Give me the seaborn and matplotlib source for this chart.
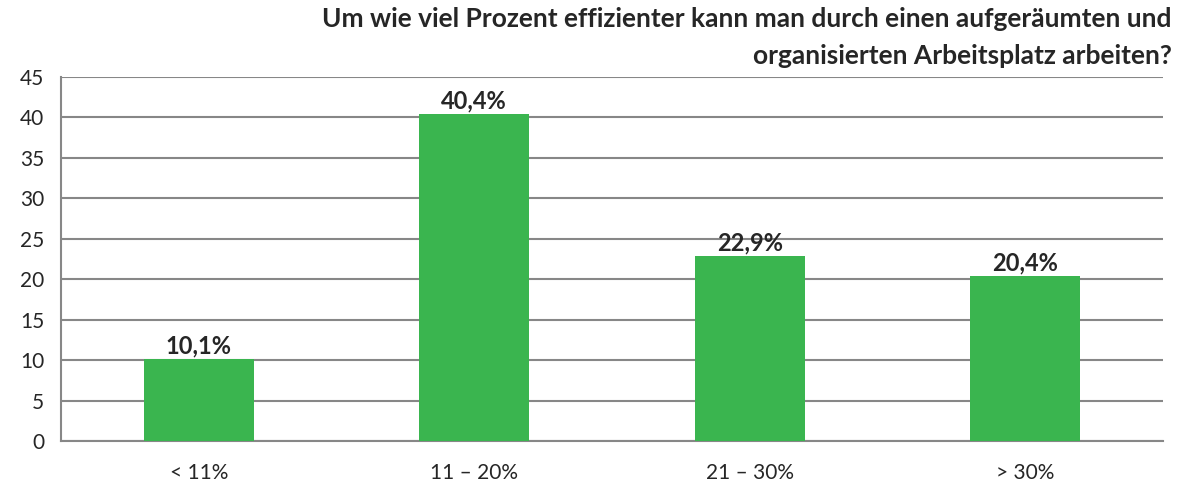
import matplotlib
matplotlib.use('Agg')
import matplotlib.pyplot as plt
import seaborn as sns
import pandas as pd

# ── Data ─────────────────────────────────────────────────────
categories = ['< 11%', '11 – 20%', '21 – 30%', '> 30%']
values = [10.1, 40.4, 22.9, 20.4]
labels = ['10,1%', '40,4%', '22,9%', '20,4%']
title = ('Um wie viel Prozent effizienter kann man durch einen aufgeräumten und\n'
         'organisierten Arbeitsplatz arbeiten?')

GREEN = '#3AB54F'
GREY = '#878787'

sns.set_style('white')
plt.rcParams['font.family'] = ['Lato', 'DejaVu Sans']

df = pd.DataFrame({'cat': categories, 'val': values})

fig = plt.figure(figsize=(11.92, 4.88), dpi=100)
ax = fig.add_axes([61 / 1192, 1 - 441 / 488, (1163 - 61) / 1192, (441 - 77) / 488])

sns.barplot(data=df, x='cat', y='val', color=GREEN, saturation=1,
            width=0.4, ax=ax, zorder=3, linewidth=0)

ax.set_ylim(0, 45)
ax.set_xlim(-0.5, 3.5)
ax.set_yticks(range(0, 46, 5))
ax.yaxis.grid(True, color=GREY, linewidth=1.5, zorder=0)
ax.set_axisbelow(True)
ax.set_xlabel('')
ax.set_ylabel('')

for s in ['top', 'right']:
    ax.spines[s].set_visible(False)
for s in ['left', 'bottom']:
    ax.spines[s].set_color(GREY)
    ax.spines[s].set_linewidth(1.5)

# category ticks sit between the bars, like Excel
ax.set_xticks([-0.5, 0.5, 1.5, 2.5, 3.5], minor=False)
ax.set_xticklabels([])
ax.set_xticks(range(len(categories)), minor=True)
ax.set_xticklabels(categories, minor=True, fontsize=15)
ax.tick_params(axis='x', which='major', length=8, width=1.5, color=GREY, direction='out')
ax.tick_params(axis='x', which='minor', length=0, pad=16)
ax.tick_params(axis='y', length=6, width=1.5, color=GREY, labelsize=15, pad=6)

for i, (v, lab) in enumerate(zip(values, labels)):
    ax.annotate(lab, (i, v), xytext=(0, 1), textcoords='offset points',
                ha='center', va='bottom', fontsize=17, fontweight='bold')

fig.text(1172 / 1192, 1 - 7 / 488, title, ha='right', va='top',
         fontsize=19, fontweight='bold', linespacing=1.65)

fig.savefig('out.png', dpi=100)
